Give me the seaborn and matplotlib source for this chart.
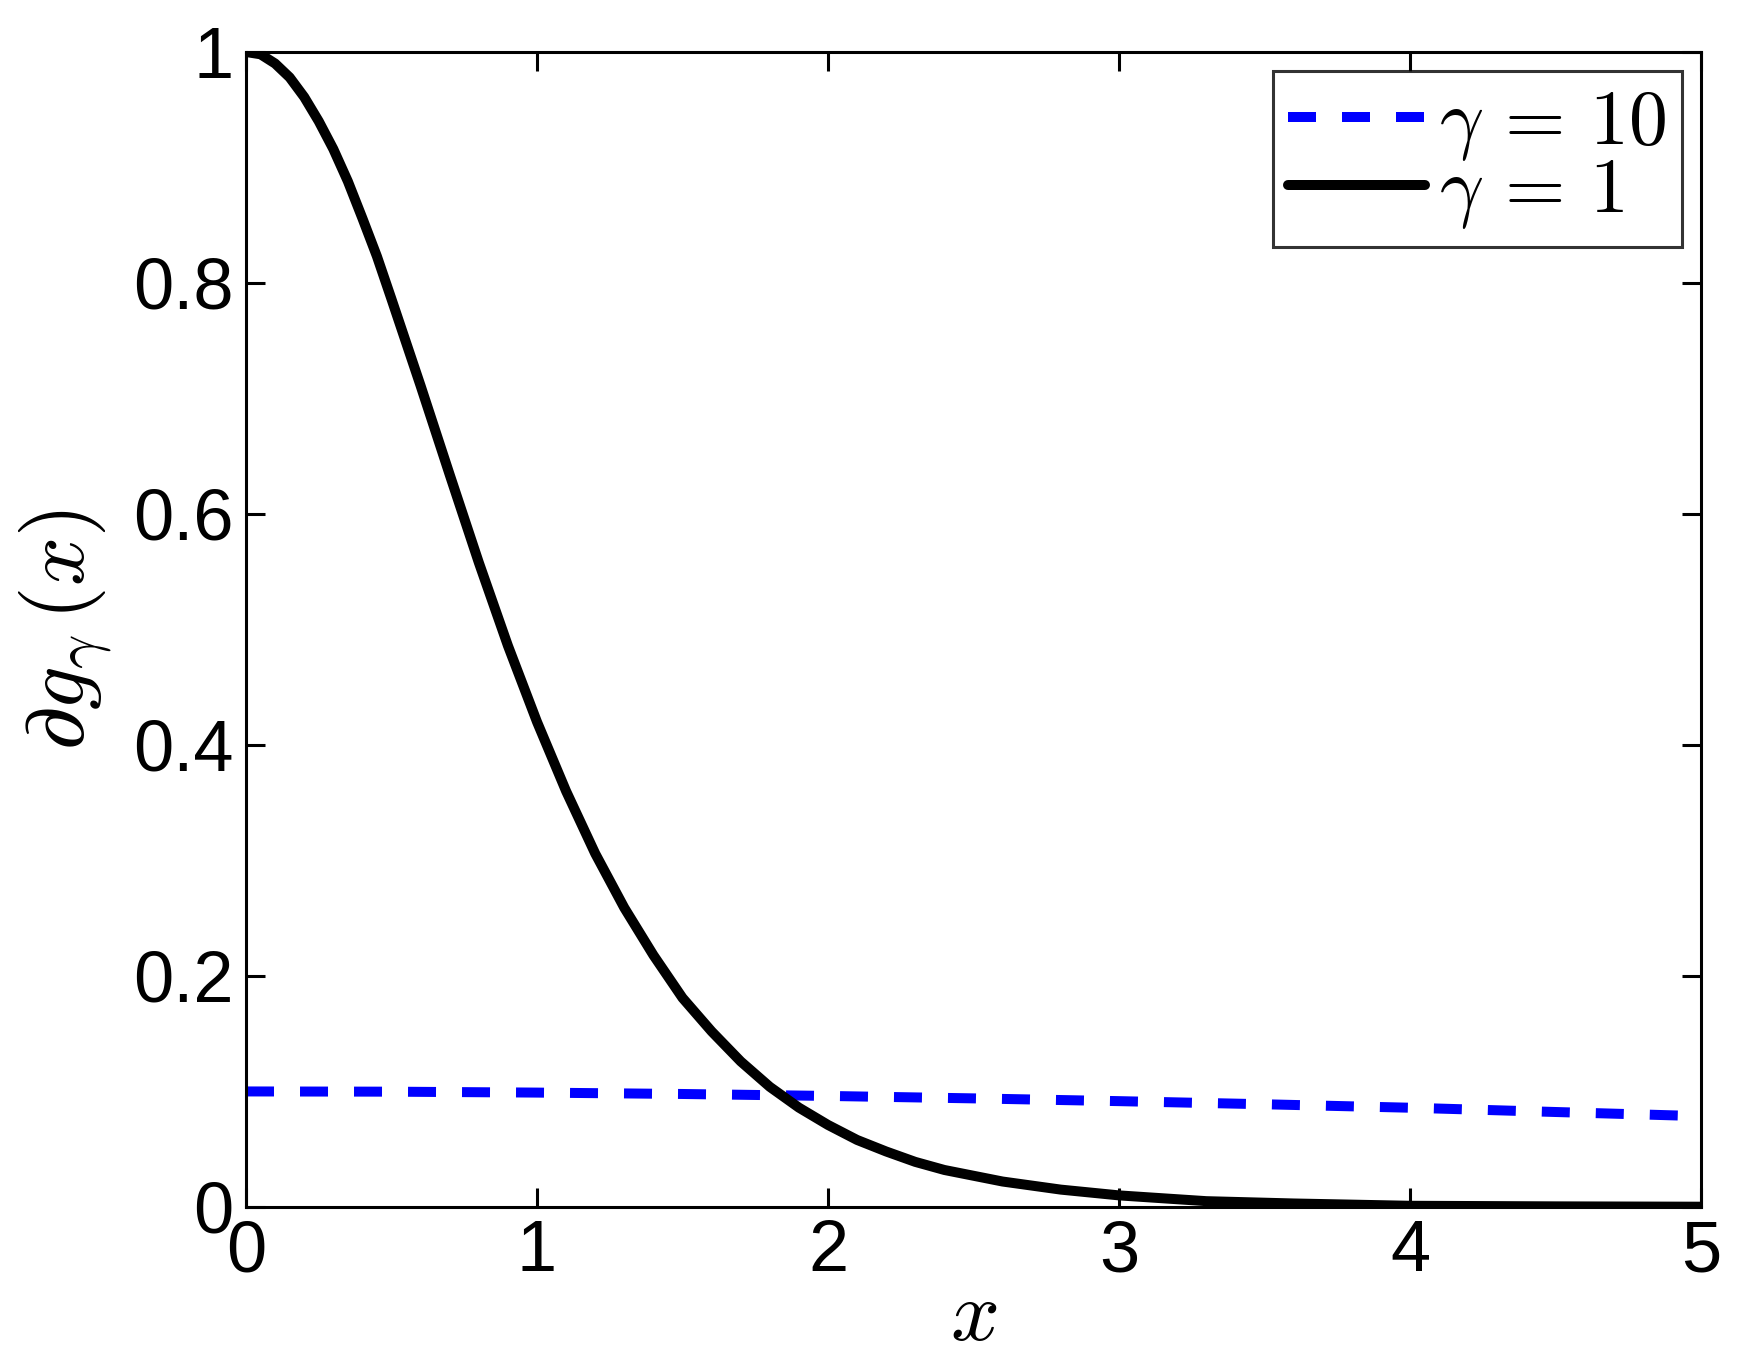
import matplotlib
matplotlib.use("Agg")
import matplotlib.pyplot as plt
import seaborn as sns

# curva gamma = 1
x_g1 = [0.0, 0.05, 0.1, 0.15, 0.2, 0.25, 0.3, 0.35, 0.4, 0.45, 0.5, 0.6, 0.7, 0.8, 0.9,
        1.0, 1.1, 1.2, 1.3, 1.4, 1.5, 1.6, 1.7, 1.8, 1.9, 2.0, 2.1, 2.2, 2.3, 2.4, 2.5,
        2.6, 2.8, 3.0, 3.3, 3.6, 4.0, 4.5, 5.0]
y_g1 = [1.000, 0.998, 0.990, 0.978, 0.961, 0.940, 0.916, 0.888, 0.856, 0.823, 0.786,
        0.711, 0.634, 0.558, 0.486, 0.420, 0.360, 0.306, 0.259, 0.218, 0.181, 0.152,
        0.126, 0.104, 0.086, 0.071, 0.058, 0.048, 0.039, 0.032, 0.027, 0.022, 0.015,
        0.010, 0.005, 0.003, 0.001, 0.0005, 0.0002]

# curva gamma = 10
x_g10 = [0.0, 0.5, 1.0, 1.5, 2.0, 2.5, 3.0, 3.5, 4.0, 4.5, 5.0]
y_g10 = [0.100, 0.0998, 0.0990, 0.0978, 0.0961, 0.0940, 0.0916, 0.0889, 0.0859, 0.0822, 0.0786]

xticks = [0, 1, 2, 3, 4, 5]
yticks = [0, 0.2, 0.4, 0.6, 0.8, 1]
ytick_labels = ['0', '0.2', '0.4', '0.6', '0.8', '1']

sns.set_style("white")
plt.rcParams['font.family'] = ['Liberation Sans', 'DejaVu Sans']
plt.rcParams['mathtext.fontset'] = 'cm'
plt.rcParams['text.color'] = 'black'
plt.rcParams['axes.labelcolor'] = 'black'
plt.rcParams['xtick.color'] = 'black'
plt.rcParams['ytick.color'] = 'black'

fig = plt.figure(figsize=(17.46, 13.61), dpi=100)
ax = fig.add_axes([0.1409, 0.1132, 0.9742 - 0.1409, 0.9618 - 0.1132])

sns.lineplot(x=x_g10, y=y_g10, ax=ax, color='#0000ff', linewidth=7.2,
             linestyle=(0, (2.8, 2.6)), label=r'$\gamma\,=\,10$', sort=False)
sns.lineplot(x=x_g1, y=y_g1, ax=ax, color='black', linewidth=7.2,
             label=r'$\gamma\,=\,1$', sort=False)

ax.set_xlim(0, 5)
ax.set_ylim(0, 1)
ax.set_xticks(xticks)
ax.set_xticklabels([str(t) for t in xticks])
ax.set_yticks(yticks)
ax.set_yticklabels(ytick_labels)
ax.tick_params(direction='in', length=14, width=2.2, labelsize=52,
               top=True, right=True, bottom=True, left=True, pad=9)
for s in ax.spines.values():
    s.set_linewidth(2.2)
    s.set_color('black')

ax.set_xlabel(r'$x$', fontsize=62, labelpad=-6)
ax.set_ylabel(r'$\partial g_{\gamma}\,(x)$', fontsize=62, labelpad=12)

leg = ax.legend(loc='upper right', fontsize=56, frameon=True, fancybox=False,
                handlelength=1.75, handletextpad=0.18, borderpad=0.2,
                labelspacing=-0.1, borderaxespad=0.25)
leg.get_frame().set_edgecolor('black')
leg.get_frame().set_linewidth(2.2)

fig.savefig('out.png', dpi=100)
